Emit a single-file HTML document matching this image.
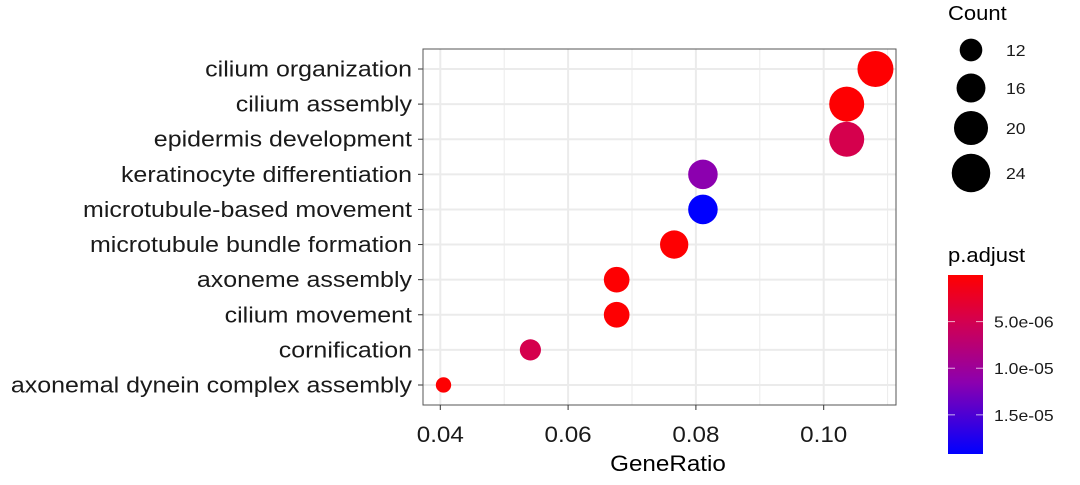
<!DOCTYPE html>
<html><head><meta charset="utf-8"><style>
body{margin:0;background:#fff;}
svg text{font-family:"Liberation Sans",Arial,sans-serif;}
</style></head><body>
<svg width="1080" height="480" id="chart">
<defs><linearGradient id="grad" x1="0" y1="0" x2="0" y2="1">
<stop offset="0" stop-color="#ff0000"/><stop offset="0.25" stop-color="#d5004d"/><stop offset="0.6" stop-color="#8c00af"/><stop offset="1" stop-color="#0000ff"/></linearGradient></defs>
</svg>
<script>
const terms=["cilium organization","cilium assembly","epidermis development","keratinocyte differentiation","microtubule-based movement","microtubule bundle formation","axoneme assembly","cilium movement","cornification","axonemal dynein complex assembly"];
const geneRatio=[0.1081,0.1036,0.1036,0.0811,0.0811,0.0766,0.0676,0.0676,0.0541,0.0405];
const counts=[24,23,23,18,18,17,15,15,12,9];
const padj=[1e-7,1e-7,4.8e-6,1.15e-5,1.92e-5,1e-7,1e-7,1e-7,4.8e-6,1e-7];
const xTicks=[0.04,0.06,0.08,0.10];
const xTickLabels=["0.04","0.06","0.08","0.10"];
const gridMinor=[0.05,0.07,0.09,0.11];
const sizeLegend=[12,16,20,24];
const colorTicks=[5e-6,1e-5,1.5e-5];
const colorTickLabels=["5.0e-06","1.0e-05","1.5e-05"];

const svg=document.getElementById('chart');
const NS="http://www.w3.org/2000/svg";
const L=423,R=896,T=49,B=405;
const X=v=>440.3+(v-0.04)*6390;
const Y=i=>69+i*35.11;
const cMin=0,cMax=1.92e-5;
const rad=c=>Math.sqrt(59+(324-59)*(c-9)/15);
const stops=[[0,255,0],[0.25,213,77],[0.6,140,175],[1,0,255]];
function col(p){let t=Math.max(0,Math.min(1,(p-cMin)/(cMax-cMin)));
 for(let k=0;k<stops.length-1;k++){const a=stops[k],b=stops[k+1];
  if(t<=b[0]){const u=(t-a[0])/(b[0]-a[0]);return `rgb(${Math.round(a[1]+(b[1]-a[1])*u)},0,${Math.round(a[2]+(b[2]-a[2])*u)})`;}}
 return 'rgb(0,0,255)';}
function mk(tag,attrs,name,text){const e=document.createElementNS(NS,tag);for(const k in attrs)e.setAttribute(k,attrs[k]);
 
 
 if(text!==undefined)e.textContent=text;svg.appendChild(e);return e;}
function widen(e,f){const w=e.getComputedTextLength();e.setAttribute('textLength',w*f);e.setAttribute('lengthAdjust','spacingAndGlyphs');}
mk('rect',{x:L,y:T,width:R-L,height:B-T,fill:'#fff'},'plot-panel');
gridMinor.forEach(v=>{if(X(v)<R)mk('line',{x1:X(v),x2:X(v),y1:T,y2:B,stroke:'#ebebeb','stroke-width':1},'minor-gridline');});
xTicks.forEach(v=>mk('line',{x1:X(v),x2:X(v),y1:T,y2:B,stroke:'#ebebeb','stroke-width':2},'major-gridline'));
terms.forEach((t,i)=>mk('line',{x1:L,x2:R,y1:Y(i),y2:Y(i),stroke:'#ebebeb','stroke-width':2},'row-gridline'));
terms.forEach((t,i)=>{
 mk('circle',{cx:X(geneRatio[i]),cy:Y(i),r:rad(counts[i]),fill:col(padj[i])},'point-'+i);
 mk('line',{x1:418,x2:L,y1:Y(i),y2:Y(i),stroke:'#333','stroke-width':1},'y-tick');
 const e=mk('text',{x:412,y:Y(i)+7.5,'text-anchor':'end','font-size':22,fill:'#1a1a1a'},'y-tick-label',t);
 widen(e,1.135);
});
mk('rect',{x:L,y:T,width:R-L,height:B-T,fill:'none',stroke:'#555','stroke-width':1},'panel-border');
xTicks.forEach((v,i)=>{
 mk('line',{x1:X(v),x2:X(v),y1:B,y2:B+5,stroke:'#333'},'x-tick');
 const e=mk('text',{x:X(v),y:442,'text-anchor':'middle','font-size':22,fill:'#1a1a1a'},'x-tick-label',xTickLabels[i]);
 widen(e,1.1);
});
const xt=mk('text',{x:668,y:471,'text-anchor':'middle','font-size':22,fill:'#000'},'x-axis-title','GeneRatio');
widen(xt,1.1);
const ct=mk('text',{x:948,y:20,'font-size':20,fill:'#000'},'size-legend-title','Count');
widen(ct,1.1);
const ly=[50,88,128,173];
sizeLegend.forEach((c,i)=>{
 mk('circle',{cx:971,cy:ly[i],r:rad(c)*1.07,fill:'#000'},'size-legend-key');
 const e=mk('text',{x:1006,y:ly[i]+6,'font-size':16,fill:'#1a1a1a'},'size-legend-label',String(c));
 widen(e,1.1);
});
const pt=mk('text',{x:948,y:262,'font-size':20,fill:'#000'},'color-legend-title','p.adjust');
widen(pt,1.1);
const cbT=275,cbB=454;
mk('rect',{x:948,y:cbT,width:35,height:cbB-cbT,fill:'url(#grad)'},'colorbar');
const CY=v=>cbT+(v-cMin)/(cMax-cMin)*(cbB-cbT);
colorTicks.forEach((v,i)=>{
 mk('line',{x1:948,x2:955,y1:CY(v),y2:CY(v),stroke:'#fff','stroke-opacity':0.7},'colorbar-tick');
 mk('line',{x1:976,x2:983,y1:CY(v),y2:CY(v),stroke:'#fff','stroke-opacity':0.7},'colorbar-tick');
 const e=mk('text',{x:994,y:CY(v)+6,'font-size':16,fill:'#1a1a1a'},'colorbar-label',colorTickLabels[i]);
 widen(e,1.1);
});
</script>
</body></html>
